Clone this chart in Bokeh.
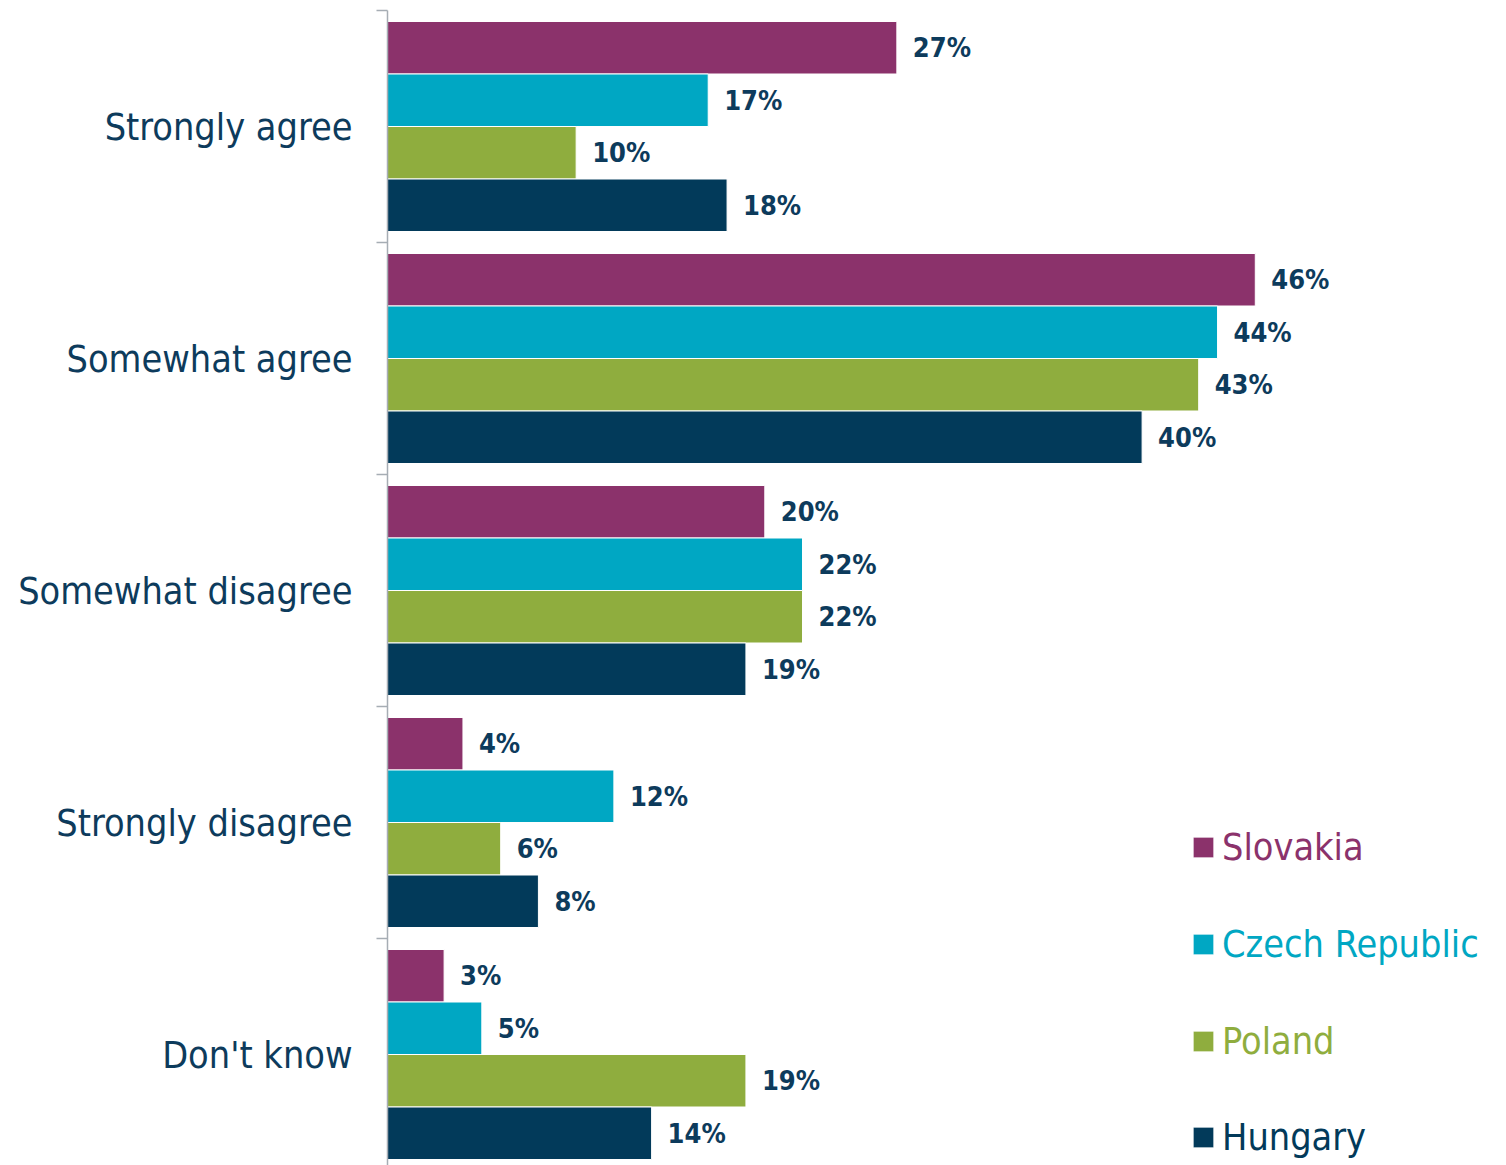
from bokeh.plotting import figure
from bokeh.models import Range1d, FixedTicker, Legend, LegendItem, ColumnDataSource
from bokeh.core.properties import value
from bokeh.embed import file_html
from bokeh.resources import INLINE

categories = ["Strongly agree", "Somewhat agree", "Somewhat disagree", "Strongly disagree", "Don't know"]
series = ["Slovakia", "Czech Republic", "Poland", "Hungary"]
slovakia = [27, 46, 20, 4, 3]
czech = [17, 44, 22, 12, 5]
poland = [10, 43, 22, 6, 19]
hungary = [18, 40, 19, 8, 14]
values_by_series = [slovakia, czech, poland, hungary]
colors = ["#8B326B", "#00A7C3", "#8FAD3E", "#023A5A"]

FONT = "DejaVu Sans Condensed"
TEXT = "#0D3B5C"

W, H = 1500, 1165
LEFT = 387
TOP = 10
frame_w = W - LEFT
frame_h = H - TOP
GROUP_PX = 232.0
PX_PER_PCT = 18.865
GAP = 11.0 / GROUP_PX
BAR = 52.5 / GROUP_PX

p = figure(width=W, height=H, output_backend="svg", toolbar_location=None,
           x_range=Range1d(0, frame_w / PX_PER_PCT),
           y_range=Range1d(frame_h / GROUP_PX, 0),
           x_axis_location=None,
           min_border_left=LEFT, min_border_top=TOP,
           min_border_right=0, min_border_bottom=0)
p.xgrid.visible = False
p.ygrid.visible = False
p.outline_line_color = None
p.background_fill_color = "white"
p.border_fill_color = "white"

ax = p.yaxis[0]
ax.ticker = FixedTicker(ticks=[i + 0.5 for i in range(len(categories))],
                        minor_ticks=[float(i) for i in range(len(categories) + 1)])
ax.major_label_overrides = {i + 0.5: c for i, c in enumerate(categories)}
ax.major_tick_out = 0
ax.major_tick_in = 0
ax.minor_tick_out = 11
ax.minor_tick_in = 0
ax.minor_tick_line_color = "#A6ADB4"
ax.minor_tick_line_width = 1.5
ax.axis_line_color = "#A6ADB4"
ax.axis_line_width = 1.5
ax.major_label_text_font = FONT
ax.major_label_text_font_size = "37.5px"
ax.major_label_text_color = TEXT
ax.major_label_standoff = 24

renderers = []
for k, (name, vals, col) in enumerate(zip(series, values_by_series, colors)):
    ys = [i + GAP + BAR * (k + 0.5) for i in range(len(categories))]
    src = ColumnDataSource(dict(y=ys, v=vals, lab=[f"{v}%" for v in vals]))
    r = p.hbar(y="y", left=0, right="v", height=BAR, source=src,
               fill_color=col, line_color="white", line_width=1)
    renderers.append(r)
    p.text(x="v", y="y", text="lab", source=src, x_offset=16,
           text_baseline="middle", text_align="left",
           text_font=value(FONT), text_font_style="bold",
           text_font_size="27px", text_color=TEXT)

leg_y = [296, 199, 102, 6]
for k, name in enumerate(series):
    leg = Legend(items=[LegendItem(label=name, renderers=[renderers[k]])],
                 location=(803, leg_y[k]),
                 padding=0, margin=0, spacing=0,
                 border_line_alpha=0, background_fill_alpha=0,
                 glyph_width=26, glyph_height=26, label_standoff=6,
                 label_text_font=FONT, label_text_font_size="37.5px",
                 label_text_color=colors[k])
    p.add_layout(leg)

open("out.html", "w").write(file_html(p, INLINE))
